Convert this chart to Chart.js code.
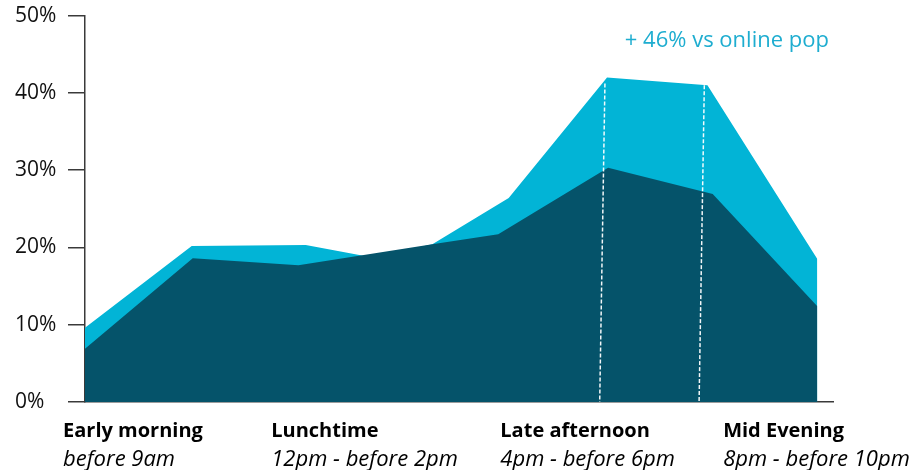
<!DOCTYPE html>
<html>
<head>
<meta charset="utf-8">
<script src="https://cdn.jsdelivr.net/npm/chart.js@4.4.0/dist/chart.umd.min.js"></script>
<style>
  html, body { margin: 0; padding: 0; background: #fff; }
  #wrap { width: 911px; height: 470px; }
</style>
</head>
<body>
<div id="wrap"><canvas id="c" width="911" height="470"></canvas></div>
<script>
// time of day share (%) - x is position along the day, 0 = early morning
const audienceX = [0, 1.02, 2.11, 2.75, 3.32, 4.05, 4.99, 5.95, 7];
const audienceVals = [9.6, 20.2, 20.3, 18.7, 20.4, 26.4, 42.0, 41.0, 18.5];
const onlineX = [0, 1.03, 2.04, 3.32, 3.95, 5.0, 6.0, 7];
const onlineVals = [6.9, 18.6, 17.7, 20.4, 21.7, 30.3, 26.9, 12.4];

const yTicks = [0, 10, 20, 30, 40, 50];
const categories = ['Early morning', 'Lunchtime', 'Late afternoon', 'Mid Evening'];
const subLabels = ['before 9am', '12pm - before 2pm', '4pm - before 6pm', '8pm - before 10pm'];
const catPos = [-0.21, 1.78, 3.97, 6.1];

// dashed markers round the peak
const markTopX = [4.97, 5.92];
const markBottomX = [4.92, 5.87];
const markTopVals = [41.2, 41.0];

const note = '+ 46% vs online pop';
const noteX = 5.16;
const noteY = 46.8;

const LIGHT = '#02b4d6';
const DARK = '#05536a';

const pts = (xs, ys) => xs.map((v, i) => ({x: v, y: ys[i]}));

const markers = markTopX.map((t, i) => ({
  type: 'line',
  data: [{x: t, y: markTopVals[i]}, {x: markBottomX[i], y: 0}],
  borderColor: 'rgba(255,255,255,0.95)',
  borderWidth: 1.5,
  borderDash: [4, 2],
  pointRadius: 0,
  fill: false,
  order: 0
}));

const textPlugin = {
  id: 'texts',
  afterDraw(chart) {
    const {ctx, scales: {x, y}} = chart;
    ctx.save();
    ctx.textAlign = 'left';
    ctx.textBaseline = 'middle';
    ctx.fillStyle = '#000';
    categories.forEach((c, i) => {
      const px = x.getPixelForValue(catPos[i]);
      ctx.font = 'bold 20px "Open Sans"';
      ctx.fillText(c, px, y.bottom + 29);
      ctx.font = 'italic 22px "Open Sans"';
      ctx.fillText(subLabels[i], px, y.bottom + 58);
    });
    ctx.fillStyle = '#1eadd0';
    ctx.font = '22px "Open Sans"';
    ctx.fillText(note, x.getPixelForValue(noteX), y.getPixelForValue(noteY));
    ctx.restore();
  }
};

new Chart(document.getElementById('c'), {
  type: 'line',
  data: {
    datasets: [
      ...markers,
      {
        label: 'Online pop',
        data: pts(onlineX, onlineVals),
        backgroundColor: DARK,
        borderWidth: 0,
        pointRadius: 0,
        fill: 'origin',
        order: 1
      },
      {
        label: 'Audience',
        data: pts(audienceX, audienceVals),
        backgroundColor: LIGHT,
        borderWidth: 0,
        pointRadius: 0,
        fill: 'origin',
        order: 2
      }
    ]
  },
  options: {
    responsive: false,
    animation: false,
    layout: { padding: { left: 15, top: 12, right: 78, bottom: 68 } },
    plugins: {
      legend: { display: false },
      tooltip: { enabled: false }
    },
    scales: {
      x: {
        type: 'linear',
        min: 0,
        max: 7.15,
        ticks: { display: false },
        grid: { display: false },
        border: { display: true, color: '#3a3a3a', width: 1.5 },
        afterFit(s) { s.height = 0; }
      },
      y: {
        min: 0,
        max: 50,
        afterBuildTicks(s) { s.ticks = yTicks.map(v => ({value: v})); },
        ticks: {
          crossAlign: 'far',
          color: '#111',
          font: { family: '"Open Sans"', size: 21 },
          callback: v => v + '%'
        },
        grid: {
          drawOnChartArea: false,
          tickLength: 17,
          color: '#3a3a3a',
          lineWidth: 1.5
        },
        border: { display: true, color: '#3a3a3a', width: 1.5 },
        afterFit(s) { s.width = 70; }
      }
    }
  },
  plugins: [textPlugin]
});
</script>
</body>
</html>
